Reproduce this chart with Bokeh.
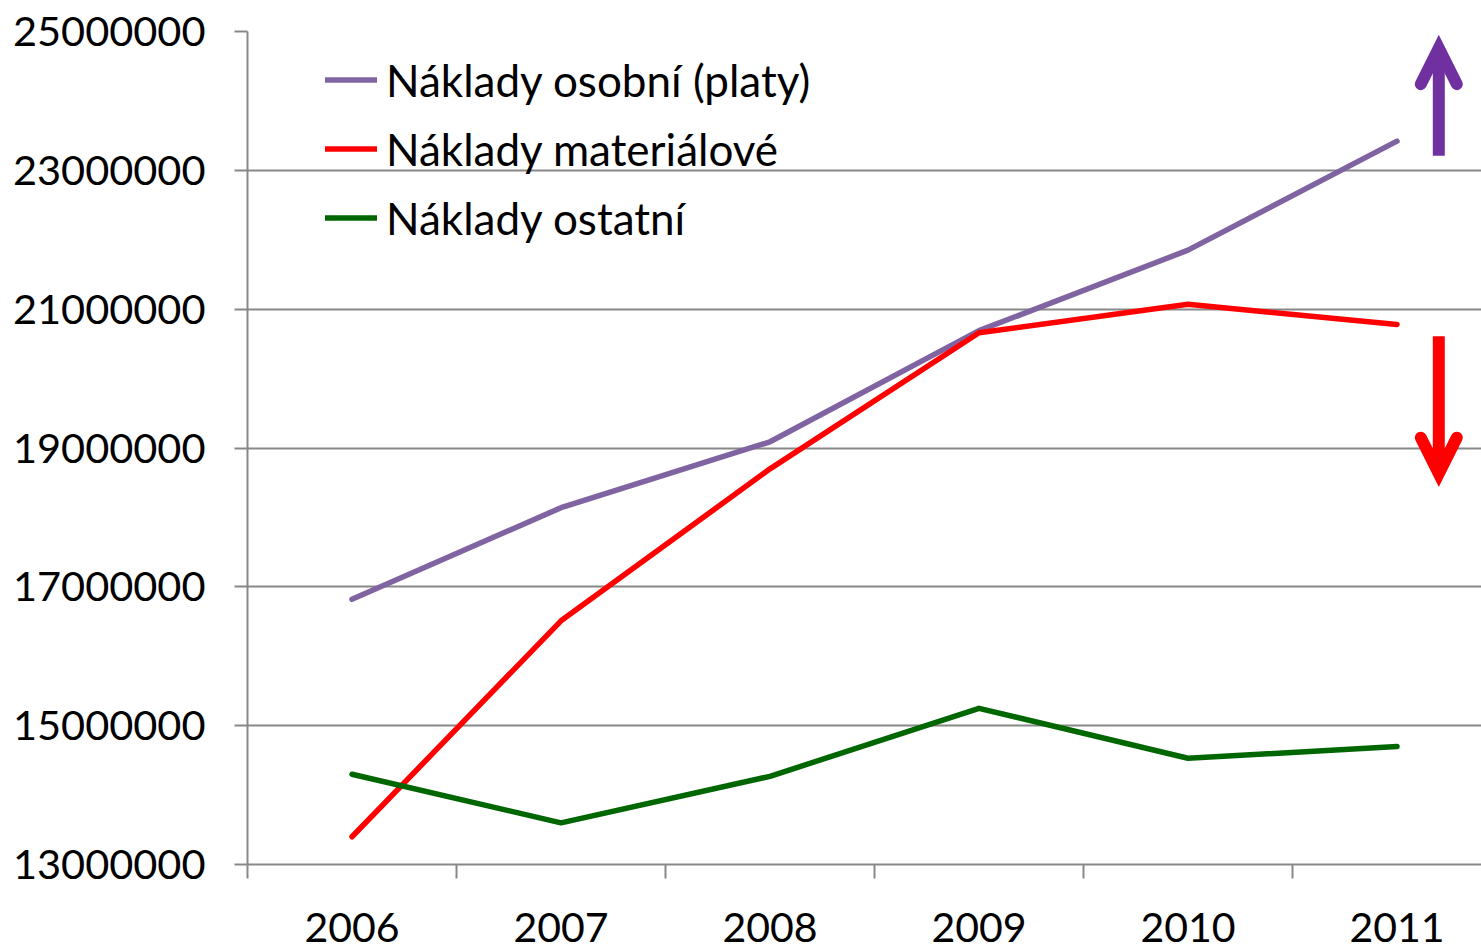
from bokeh.plotting import figure
from bokeh.models import Range1d, FixedTicker, BasicTickFormatter, Arrow, OpenHead, Legend, LegendItem
from bokeh.embed import file_html
from bokeh.resources import INLINE

# ---- data ----
years = ["2006", "2007", "2008", "2009", "2010", "2011"]
osobni = [16.82e6, 18.14e6, 19.09e6, 20.69e6, 21.85e6, 23.42e6]
materialove = [13.40e6, 16.51e6, 18.70e6, 20.66e6, 21.07e6, 20.78e6]
ostatni = [14.30e6, 13.60e6, 14.27e6, 15.25e6, 14.53e6, 14.70e6]
names = ["Náklady osobní (platy)", "Náklady materiálové", "Náklady ostatní"]
colors = ["#8064A2", "#FF0000", "#006600"]
y_ticks = [13e6, 15e6, 17e6, 19e6, 21e6, 23e6, 25e6]

# arrow annotations (x in category units, y in data units)
up_arrow = dict(x=5.70, y0=23.21e6, y1=24.76e6, color="#7030A0")
down_arrow = dict(x=5.70, y0=20.61e6, y1=18.63e6, color="#FF0000")

xs = [i + 0.5 for i in range(len(years))]
FONT = "Lato"
GRAY = "#888888"

W, H = 1481, 949
LEFT, TOP, FRAME_H = 247, 31, 833
p = figure(width=W, height=H, output_backend="svg", toolbar_location=None,
           x_range=Range1d(0, (W - LEFT) / 209.0), y_range=Range1d(13e6, 25e6),
           min_border_left=LEFT, min_border_right=0, min_border_top=TOP,
           min_border_bottom=H - TOP - FRAME_H)
p.outline_line_color = None
p.background_fill_color = None
p.border_fill_color = "white"

renderers = []
for vals, c in zip([osobni, materialove, ostatni], colors):
    r = p.line(xs, vals, line_color=c, line_width=5.5, line_cap="round", line_join="round")
    renderers.append(r)

# x axis
xa = p.xaxis[0]
xa.ticker = FixedTicker(ticks=xs, minor_ticks=list(range(len(years))))
xa.major_label_overrides = {x: y for x, y in zip(xs, years)}
xa.major_tick_line_color = None
xa.major_tick_out = 14
xa.major_tick_in = 0
xa.minor_tick_line_color = GRAY
xa.minor_tick_line_width = 2
xa.minor_tick_out = 14
xa.minor_tick_in = 0
xa.major_label_standoff = 34
xa.axis_line_color = GRAY
xa.axis_line_width = 2
xa.major_label_text_font = FONT
xa.major_label_text_font_size = "41px"
xa.major_label_text_color = "black"

# y axis
ya = p.yaxis[0]
ya.ticker = FixedTicker(ticks=y_ticks)
ya.formatter = BasicTickFormatter(use_scientific=False)
ya.major_tick_line_color = GRAY
ya.major_tick_line_width = 2
ya.major_tick_out = 13
ya.major_tick_in = 0
ya.minor_tick_line_color = None
ya.major_label_standoff = 29
ya.axis_line_color = GRAY
ya.axis_line_width = 2
ya.major_label_text_font = FONT
ya.major_label_text_font_size = "41.5px"
ya.major_label_text_color = "black"

p.xgrid.grid_line_color = None
p.ygrid.grid_line_color = GRAY
p.ygrid.grid_line_width = 2

# arrows
for a in (up_arrow, down_arrow):
    p.add_layout(Arrow(x_start=a["x"], y_start=a["y0"], x_end=a["x"], y_end=a["y1"],
                       line_color=a["color"], line_width=12, line_cap="butt",
                       end=OpenHead(size=36, line_color=a["color"], line_width=12,
                                    line_cap="round", line_join="miter")))

legend = Legend(items=[LegendItem(label=n, renderers=[r]) for n, r in zip(names, renderers)],
                location=(78, FRAME_H - 14 - 3 * 69), orientation="vertical",
                padding=0, spacing=0, margin=0,
                glyph_width=52, glyph_height=69, label_height=69, label_standoff=9,
                label_text_font=FONT, label_text_font_size="44px", label_text_color="black",
                border_line_color=None, background_fill_alpha=0)
p.add_layout(legend)

open("out.html", "w").write(file_html(p, INLINE))
